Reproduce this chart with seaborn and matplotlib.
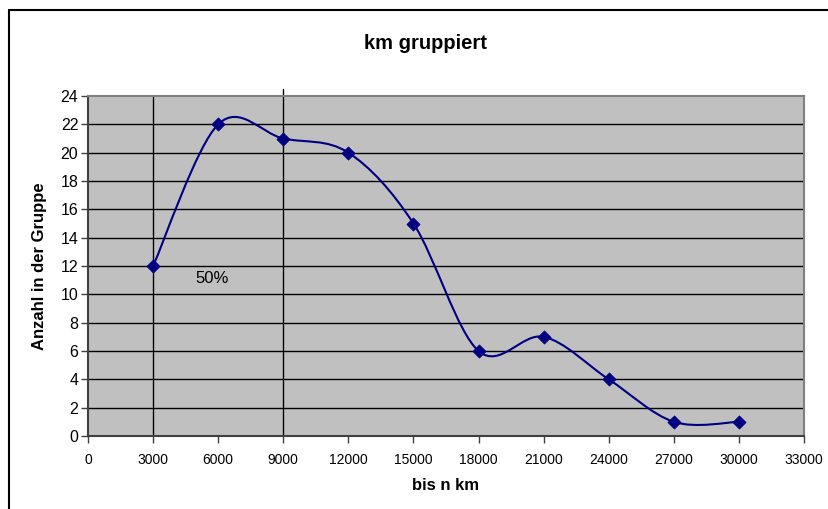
import numpy as np
import matplotlib
matplotlib.use("Agg")
import matplotlib.pyplot as plt
from matplotlib.path import Path
from matplotlib.patches import PathPatch
from matplotlib.lines import Line2D
import seaborn as sns

# data
km = [3000, 6000, 9000, 12000, 15000, 18000, 21000, 24000, 27000, 30000]
anzahl = [12, 22, 21, 20, 15, 6, 7, 4, 1, 1]
x_ticks = list(range(0, 33001, 3000))
y_ticks = list(range(0, 25, 2))
marker_lines = [3000, 9000]

navy = "#000080"
gray_bg = "#C0C0C0"

sns.set_style("ticks")
plt.rcParams["font.family"] = ["Liberation Sans", "DejaVu Sans"]
plt.rcParams["text.color"] = "black"
plt.rcParams["axes.labelcolor"] = "black"
plt.rcParams["xtick.labelcolor"] = "black"
plt.rcParams["ytick.labelcolor"] = "black"

W, H = 829, 509
fig = plt.figure(figsize=(W / 100, H / 100), dpi=100)
left, right, top, bottom = 88, 804, 96, 436
ax = fig.add_axes([left / W, 1 - bottom / H, (right - left) / W, (bottom - top) / H])
ax.set_facecolor(gray_bg)

# horizontal gridlines (black, Excel-style)
for yv in y_ticks[1:-1]:
    ax.axhline(yv, color="black", lw=1.0, zorder=1)

# vertical reference lines
ax.axvline(marker_lines[0], color="black", lw=1.0, zorder=1)
ax.axvline(marker_lines[1], ymin=0, ymax=1 + 7 / (bottom - top), color="black",
           lw=1.0, zorder=1, clip_on=False)

# smoothed line like Excel (Catmull-Rom style bezier segments)
pts = np.column_stack([km, anzahl]).astype(float)
verts = [tuple(pts[0])]
codes = [Path.MOVETO]
n = len(pts)
for i in range(n - 1):
    p0 = pts[i - 1] if i > 0 else pts[i]
    p1 = pts[i]
    p2 = pts[i + 1]
    p3 = pts[i + 2] if i + 2 < n else pts[i + 1]
    c1 = p1 + (p2 - p0) / 6
    c2 = p2 - (p3 - p1) / 6
    verts += [tuple(c1), tuple(c2), tuple(p2)]
    codes += [Path.CURVE4] * 3
ax.add_patch(PathPatch(Path(verts, codes), facecolor="none", edgecolor=navy,
                       lw=1.5, zorder=3))

sns.scatterplot(x=km, y=anzahl, marker="D", s=45, color=navy, edgecolor=navy,
                ax=ax, zorder=4, legend=False)

ax.text(5700, 11.1, "50%", ha="center", va="center", fontsize=12, color="black")

ax.set_xlim(0, 33000)
ax.set_ylim(0, 24)
ax.set_xticks(x_ticks)
ax.set_yticks(y_ticks)
ax.tick_params(axis="x", labelsize=10, length=5, width=1, color="#404040", pad=7)
ax.tick_params(axis="y", labelsize=11.5, length=5, width=1, color="#404040", pad=2)

for side in ["top", "right"]:
    ax.spines[side].set_color("#808080")
    ax.spines[side].set_linewidth(1.5)
for side in ["left", "bottom"]:
    ax.spines[side].set_color("#404040")
    ax.spines[side].set_linewidth(1.5)

ax.set_title("km gruppiert", fontsize=14.5, fontweight="bold", pad=34,
             x=(425 - left) / (right - left))
ax.set_xlabel("bis n km", fontsize=12, fontweight="bold", labelpad=8)
ax.set_ylabel("Anzahl in der Gruppe", fontsize=12, fontweight="bold", labelpad=10)

# chart frame (left and top edges visible)
fig.add_artist(Line2D([9 / W, 9 / W], [0, 1 - 10 / H], color="black", lw=1.5))
fig.add_artist(Line2D([9 / W, 1], [1 - 10 / H, 1 - 10 / H], color="black", lw=1.5))

fig.savefig("out.png", dpi=100, facecolor="white")
